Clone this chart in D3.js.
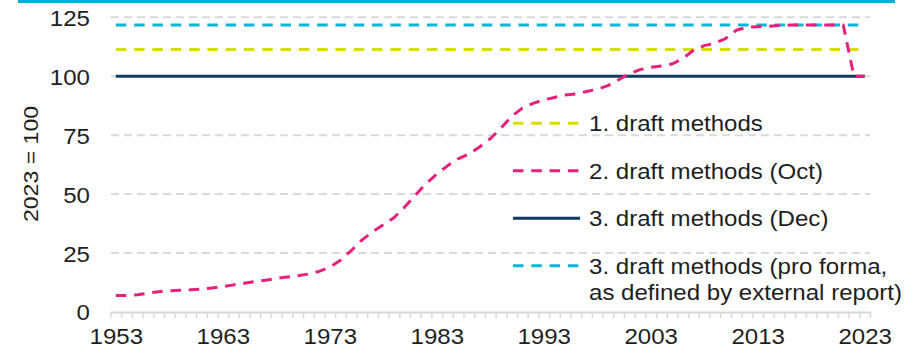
<!DOCTYPE html>
<html><head><meta charset="utf-8">
<script src="https://cdn.jsdelivr.net/npm/d3@7"></script>
<style>
html,body{margin:0;padding:0;background:#fff;}
svg{display:block;font-family:"Liberation Sans",Arial,sans-serif;}
</style></head><body>
<svg id="chart" width="912" height="348"></svg>
<script>
// ---- data ----
const years = d3.range(1953, 2024);
const xTickYears = [1953, 1963, 1973, 1983, 1993, 2003, 2013, 2023];
const yTicks = [0, 25, 50, 75, 100, 125];
const seriesNames = ["1. draft methods", "2. draft methods (Oct)", "3. draft methods (Dec)",
  ["3. draft methods (pro forma,", "as defined by external report)"]];
const draft1 = [
  111.3,111.3,111.3,111.3,111.3,111.3,111.3,111.3,111.3,111.3,
  111.3,111.3,111.3,111.3,111.3,111.3,111.3,111.3,111.3,111.3,
  111.3,111.3,111.3,111.3,111.3,111.3,111.3,111.3,111.3,111.3,
  111.3,111.3,111.3,111.3,111.3,111.3,111.3,111.3,111.3,111.3,
  111.3,111.3,111.3,111.3,111.3,111.3,111.3,111.3,111.3,111.3,
  111.3,111.3,111.3,111.3,111.3,111.3,111.3,111.3,111.3,111.3,
  111.3,111.3,111.3,111.3,111.3,111.3,111.3,111.3,111.3,111.3,
  111.3];
const draft2Oct = [
  7.0, 7.0, 7.3, 8.0, 8.6, 9.0, 9.2, 9.4, 9.7, 10.2,
  10.8, 11.5, 12.2, 12.9, 13.5, 14.2, 14.8, 15.4, 16.1, 17.2,
  19.0, 22.0, 26.0, 30.5, 34.0, 37.0, 40.0, 44.5, 49.5, 54.5,
  58.5, 62.0, 65.0, 67.0, 70.0, 73.5, 78.0, 83.0, 86.5, 88.5,
  90.0, 91.0, 92.0, 92.5, 93.5, 94.5, 96.0, 98.5, 101.0, 102.8,
  103.8, 104.3, 105.2, 107.5, 111.0, 113.0, 114.0, 116.0, 119.5, 120.8,
  121.0, 121.2, 121.5, 121.7, 121.7, 121.7, 121.7, 121.7, 121.7, 100.0,
  100.0];
const draft3Dec = [
  100,100,100,100,100,100,100,100,100,100,
  100,100,100,100,100,100,100,100,100,100,
  100,100,100,100,100,100,100,100,100,100,
  100,100,100,100,100,100,100,100,100,100,
  100,100,100,100,100,100,100,100,100,100,
  100,100,100,100,100,100,100,100,100,100,
  100,100,100,100,100,100,100,100,100,100,
  100];
const draft3ProForma = [
  121.7,121.7,121.7,121.7,121.7,121.7,121.7,121.7,121.7,121.7,
  121.7,121.7,121.7,121.7,121.7,121.7,121.7,121.7,121.7,121.7,
  121.7,121.7,121.7,121.7,121.7,121.7,121.7,121.7,121.7,121.7,
  121.7,121.7,121.7,121.7,121.7,121.7,121.7,121.7,121.7,121.7,
  121.7,121.7,121.7,121.7,121.7,121.7,121.7,121.7,121.7,121.7,
  121.7,121.7,121.7,121.7,121.7,121.7,121.7,121.7,121.7,121.7,
  121.7,121.7,121.7,121.7,121.7,121.7,121.7,121.7,121.7,121.7,
  121.7];

// ---- styles ----
const colors = ["#d4df00", "#e8207c", "#0f3b5f", "#12b3d9"];
const dashes = ["10.5,7.8", "10.5,7.8", null, "10.5,7.8"];
const textColor = "#1e1e1e";
const fontSize = 21.5;
const stretch = "scale(1.12,1)";

const svg = d3.select("#chart");
const x = d3.scaleLinear().domain([1952.5, 2023.5]).range([110.5, 870]);
const y = d3.scaleLinear().domain([0, 125]).range([312, 17.3]);

// top bar
svg.append("rect").attr("x", 18).attr("y", 0).attr("width", 877).attr("height", 3).attr("fill", "#00aed6");

// gridlines
svg.append("g").selectAll("line").data(yTicks.filter(d => d > 0)).join("line")
  .attr("x1", 111).attr("x2", 870)
  .attr("y1", d => y(d)).attr("y2", d => y(d))
  .attr("stroke", "#d9d9d9").attr("stroke-width", 2).attr("stroke-dasharray", "8,5");

// x axis line + category ticks
const boundaries = d3.range(1952.5, 2024, 1);
const gx = svg.append("g").attr("transform", "translate(0,312)")
  .call(d3.axisBottom(x).tickValues(boundaries).tickSize(6).tickSizeOuter(0).tickFormat(""));
gx.select(".domain").attr("stroke", "#d9d9d9").attr("stroke-width", 2);
gx.selectAll(".tick line").attr("stroke", "#d9d9d9").attr("stroke-width", 1.5);

// x labels
const gxl = svg.append("g").attr("transform", "translate(0,312)")
  .call(d3.axisBottom(x).tickValues(xTickYears).tickSize(0).tickFormat(d3.format("d")));
gxl.select(".domain").remove();
gxl.selectAll("text").attr("y", 32.5).attr("dy", 0)
  .attr("font-size", fontSize).attr("font-family", "Liberation Sans, Arial, sans-serif")
  .attr("fill", textColor).attr("transform", stretch);

// y labels
const gy = svg.append("g").attr("transform", "translate(111,0)")
  .call(d3.axisLeft(y).tickValues(yTicks).tickSize(0).tickPadding(18.75));
gy.select(".domain").remove();
gy.selectAll("text").attr("dy", "0.37em")
  .attr("font-size", fontSize).attr("font-family", "Liberation Sans, Arial, sans-serif")
  .attr("fill", textColor).attr("transform", stretch);

// y title
svg.append("text").attr("transform", "translate(38,164) rotate(-90) scale(1.1,1)")
  .attr("text-anchor", "middle").attr("font-size", 21).attr("fill", textColor)
  .text("2023 = 100");

// series
const seriesData = [draft1, draft2Oct, draft3Dec, draft3ProForma];
const line = d3.line().x(d => x(d.year)).y(d => y(d.v));
const drawOrder = [0, 2, 3, 1];
drawOrder.forEach(i => {
  const pts = years.map((yr, j) => ({year: yr, v: seriesData[i][j]}));
  svg.append("path").datum(pts).attr("d", line)
    .attr("fill", "none").attr("stroke", colors[i]).attr("stroke-width", 3)
    .attr("stroke-dasharray", dashes[i]).attr("stroke-linejoin", "round");
});

// legend
const legendY = [123.3, 170.7, 218.3, 265.7];
const lg = svg.append("g");
seriesNames.forEach((name, i) => {
  lg.append("line").attr("x1", 513).attr("x2", 580).attr("y1", legendY[i]).attr("y2", legendY[i])
    .attr("stroke", colors[i]).attr("stroke-width", 3).attr("stroke-dasharray", dashes[i]);
  const t = lg.append("text").attr("transform", `translate(589,${legendY[i] + 7.8}) ${stretch}`)
    .attr("font-size", fontSize).attr("fill", textColor);
  const lines = Array.isArray(name) ? name : [name];
  lines.forEach((ln, k) => t.append("tspan").attr("x", 0).attr("dy", k === 0 ? 0 : 27).text(ln));
});
</script>
</body></html>
